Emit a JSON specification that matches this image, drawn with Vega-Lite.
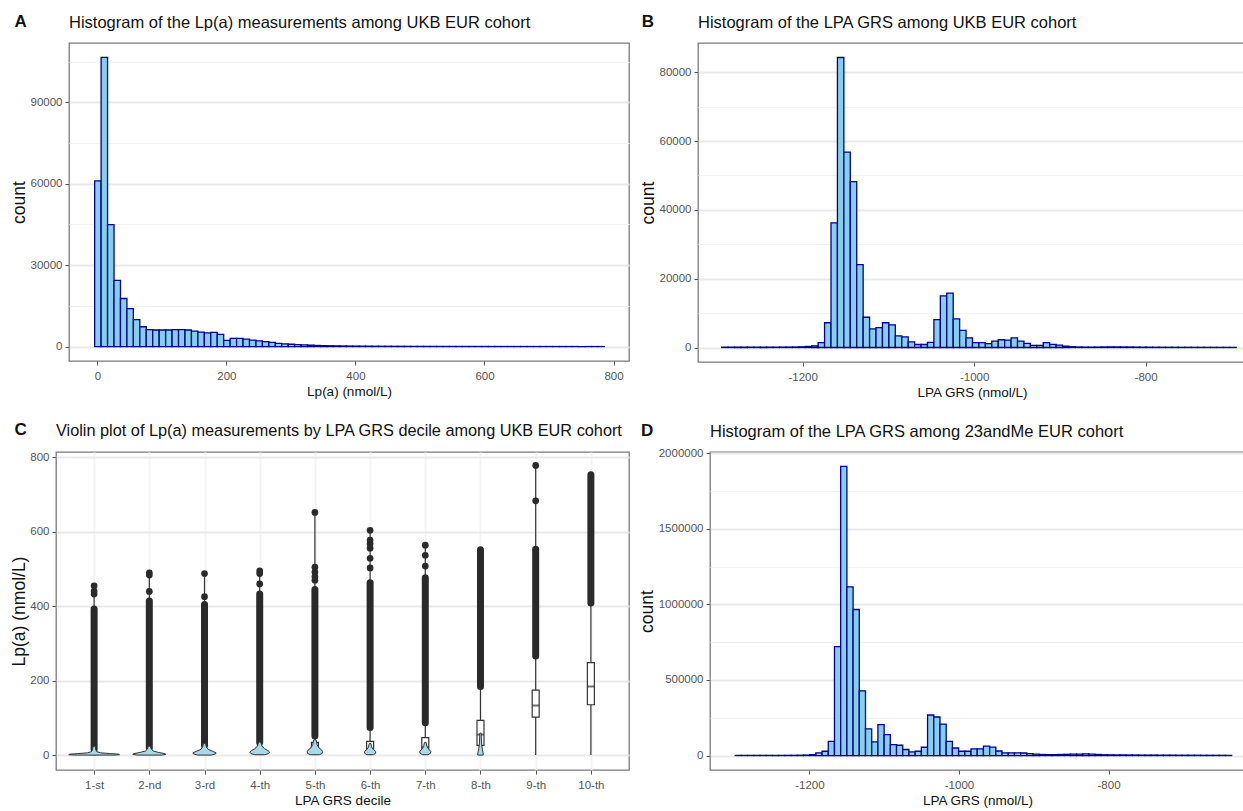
{
 "$schema": "https://vega.github.io/schema/vega-lite/v6.json",
 "background": "white",
 "padding": {"left": 7, "top": 12, "right": 0, "bottom": 0},
 "config": {
  "font": "Liberation Sans",
  "view": {"stroke": "#7a7a7a", "strokeWidth": 1.3},
  "axis": {
   "domain": false,
   "labelFont": "Liberation Sans",
   "labelFontSize": 11.5,
   "labelColor": "#555555",
   "labelOverlap": false,
   "tickColor": "#555555",
   "tickSize": 4,
   "labelPadding": 3,
   "titleFont": "Liberation Sans",
   "titleFontSize": 13.5,
   "titleFontWeight": "normal",
   "titleColor": "#111111",
   "gridColor": "#ebebeb"
  },
  "axisY": {"titleFontSize": 17.5, "titlePadding": 1.5},
  "axisX": {"labelPadding": 5, "titlePadding": 3},
  "title": {"font": "Liberation Sans", "fontSize": 16.5, "fontWeight": "normal", "color": "#111111", "anchor": "start", "frame": "group", "offset": 12}
 },
 "datasets": {
  "box": [
   {"d": 1, "q1": 2, "med": 4, "q3": 7},
   {"d": 2, "q1": 3, "med": 5, "q3": 10},
   {"d": 3, "q1": 4, "med": 8, "q3": 15},
   {"d": 4, "q1": 5, "med": 10, "q3": 22},
   {"d": 5, "q1": 7, "med": 14, "q3": 35},
   {"d": 6, "q1": 8, "med": 18, "q3": 38},
   {"d": 7, "q1": 10, "med": 22, "q3": 48},
   {"d": 8, "q1": 27, "med": 56, "q3": 94},
   {"d": 9, "q1": 103, "med": 134, "q3": 175},
   {"d": 10, "q1": 136, "med": 185, "q3": 249}
  ],
  "blank": [{"k": 0}]
 },
 "columns": 2,
 "align": {"row": "each", "column": "none"},
 "spacing": {"row": 21, "column": 8},
 "concat": [
    {
     "title": {"text": "A", "fontWeight": "bold", "fontSize": 17, "frame": "bounds", "offset": -17, "dx": 7},
     "spacing": 0.001,
     "hconcat": [
      {
       "width": 0.01, "height": 0.01,
       "view": {"stroke": null},
       "data": {"name": "blank"},
       "mark": {"type": "rule", "opacity": 0},
       "encoding": {}
      },
      {
       "width": 560, "height": 318,
       "title": {"text": "Histogram of the Lp(a) measurements among UKB EUR cohort"},
       "data": {"values": [
        {"s": -5, "n": 61000}, {"s": 5, "n": 106500}, {"s": 15, "n": 44900}, {"s": 25, "n": 24400},
        {"s": 35, "n": 17700}, {"s": 45, "n": 14000}, {"s": 55, "n": 9900}, {"s": 65, "n": 7300},
        {"s": 75, "n": 6200}, {"s": 85, "n": 6100}, {"s": 95, "n": 6100}, {"s": 105, "n": 6100},
        {"s": 115, "n": 6200}, {"s": 125, "n": 6200}, {"s": 135, "n": 6100}, {"s": 145, "n": 5700},
        {"s": 155, "n": 5300}, {"s": 165, "n": 5000}, {"s": 175, "n": 5200}, {"s": 185, "n": 4500},
        {"s": 195, "n": 2300}, {"s": 205, "n": 3000}, {"s": 215, "n": 3000}, {"s": 225, "n": 2700},
        {"s": 235, "n": 2400}, {"s": 245, "n": 2100}, {"s": 255, "n": 1800}, {"s": 265, "n": 1500},
        {"s": 275, "n": 1200}, {"s": 285, "n": 1000}, {"s": 295, "n": 850}, {"s": 305, "n": 700},
        {"s": 315, "n": 580}, {"s": 325, "n": 480}, {"s": 335, "n": 400}, {"s": 345, "n": 340},
        {"s": 355, "n": 290}, {"s": 365, "n": 250}, {"s": 375, "n": 215}, {"s": 385, "n": 185},
        {"s": 395, "n": 160}, {"s": 405, "n": 140}, {"s": 415, "n": 125}, {"s": 425, "n": 110},
        {"s": 435, "n": 100}, {"s": 445, "n": 90}, {"s": 455, "n": 80}, {"s": 465, "n": 72},
        {"s": 475, "n": 65}, {"s": 485, "n": 58}, {"s": 495, "n": 52}, {"s": 505, "n": 47},
        {"s": 515, "n": 42}, {"s": 525, "n": 38}, {"s": 535, "n": 35}, {"s": 545, "n": 32},
        {"s": 555, "n": 29}, {"s": 565, "n": 26}, {"s": 575, "n": 24}, {"s": 585, "n": 22},
        {"s": 595, "n": 20}, {"s": 605, "n": 18}, {"s": 615, "n": 17}, {"s": 625, "n": 16},
        {"s": 635, "n": 15}, {"s": 645, "n": 14}, {"s": 655, "n": 13}, {"s": 665, "n": 12},
        {"s": 675, "n": 11}, {"s": 685, "n": 10}, {"s": 695, "n": 9}, {"s": 705, "n": 8},
        {"s": 715, "n": 8}, {"s": 725, "n": 7}, {"s": 735, "n": 6}, {"s": 745, "n": 6},
        {"s": 755, "n": 5}, {"s": 765, "n": 4}, {"s": 775, "n": 3}
       ]},
       "mark": {"type": "bar", "fill": "#87ceeb", "stroke": "#00008b", "strokeWidth": 1.3, "binSpacing": 0},
       "encoding": {
        "x": {"field": "s", "type": "quantitative", "bin": {"binned": true, "step": 10}, "title": "Lp(a) (nmol/L)",
         "scale": {"domain": [-44, 824], "nice": false, "zero": false},
         "axis": {"values": [0, 100, 200, 300, 400, 500, 600, 700, 800],
          "labelExpr": "datum.value % 200 == 0 ? '' + datum.value : ''",
          "tickOpacity": {"condition": {"test": "datum.value % 200 != 0", "value": 0}, "value": 1},
          "gridColor": "#f4f4f4",
          "gridWidth": {"condition": {"test": "datum.value % 200 != 0", "value": 1}, "value": 2}}},
        "y": {"field": "n", "type": "quantitative", "title": "count",
         "scale": {"domain": [-5325, 111825], "nice": false, "zero": false},
         "axis": {"values": [0, 15000, 30000, 45000, 60000, 75000, 90000, 105000],
          "labelExpr": "datum.value % 30000 == 0 ? '' + datum.value : ''",
          "tickOpacity": {"condition": {"test": "datum.value % 30000 != 0", "value": 0}, "value": 1},
          "gridColor": {"condition": {"test": "datum.value % 30000 != 0", "value": "#f2f2f2"}, "value": "#e9e9e9"},
          "gridWidth": {"condition": {"test": "datum.value % 30000 != 0", "value": 1}, "value": 2}}},
        "y2": {"datum": 0}
       }
      }
     ]
    },
    {
     "title": {"text": "B", "fontWeight": "bold", "fontSize": 17, "frame": "bounds", "offset": -17, "dx": 3},
     "vconcat": [
      {
       "width": 548, "height": 319,
       "title": {"text": "Histogram of the LPA GRS among UKB EUR cohort"},
       "data": {"values": [
        {"s": -1295, "n": 100}, {"s": -1287.5, "n": 100}, {"s": -1280, "n": 100}, {"s": -1272.5, "n": 100},
        {"s": -1265, "n": 100}, {"s": -1257.5, "n": 100}, {"s": -1250, "n": 100}, {"s": -1242.5, "n": 100},
        {"s": -1235, "n": 100}, {"s": -1227.5, "n": 120}, {"s": -1220, "n": 130}, {"s": -1212.5, "n": 150},
        {"s": -1205, "n": 200}, {"s": -1197.5, "n": 300}, {"s": -1190, "n": 500}, {"s": -1182.5, "n": 1400},
        {"s": -1175, "n": 7200}, {"s": -1167.5, "n": 36200}, {"s": -1160, "n": 84300}, {"s": -1152.5, "n": 56800},
        {"s": -1145, "n": 48200}, {"s": -1137.5, "n": 24100}, {"s": -1130, "n": 8800}, {"s": -1122.5, "n": 5400},
        {"s": -1115, "n": 5800}, {"s": -1107.5, "n": 7200}, {"s": -1100, "n": 6600}, {"s": -1092.5, "n": 3400},
        {"s": -1085, "n": 3100}, {"s": -1077.5, "n": 1650}, {"s": -1070, "n": 870}, {"s": -1062.5, "n": 870},
        {"s": -1055, "n": 1500}, {"s": -1047.5, "n": 8100}, {"s": -1040, "n": 15000}, {"s": -1032.5, "n": 15800},
        {"s": -1025, "n": 8300}, {"s": -1017.5, "n": 5000}, {"s": -1010, "n": 2800}, {"s": -1002.5, "n": 1400},
        {"s": -995, "n": 1400}, {"s": -987.5, "n": 1100}, {"s": -980, "n": 1850}, {"s": -972.5, "n": 2250},
        {"s": -965, "n": 2150}, {"s": -957.5, "n": 2800}, {"s": -950, "n": 1850}, {"s": -942.5, "n": 1200},
        {"s": -935, "n": 620}, {"s": -927.5, "n": 620}, {"s": -920, "n": 1400}, {"s": -912.5, "n": 900},
        {"s": -905, "n": 700}, {"s": -897.5, "n": 420}, {"s": -890, "n": 220}, {"s": -882.5, "n": 150},
        {"s": -875, "n": 120}, {"s": -867.5, "n": 110}, {"s": -860, "n": 130}, {"s": -852.5, "n": 160},
        {"s": -845, "n": 180}, {"s": -837.5, "n": 170}, {"s": -830, "n": 160}, {"s": -822.5, "n": 140},
        {"s": -815, "n": 120}, {"s": -807.5, "n": 100}, {"s": -800, "n": 90}, {"s": -792.5, "n": 80},
        {"s": -785, "n": 75}, {"s": -777.5, "n": 70}, {"s": -770, "n": 65}, {"s": -762.5, "n": 60},
        {"s": -755, "n": 60}, {"s": -747.5, "n": 55}, {"s": -740, "n": 55}, {"s": -732.5, "n": 50},
        {"s": -725, "n": 50}, {"s": -717.5, "n": 45}, {"s": -710, "n": 45}, {"s": -702.5, "n": 40}
       ]},
       "mark": {"type": "bar", "fill": "#87ceeb", "stroke": "#00008b", "strokeWidth": 1.3, "binSpacing": 0},
       "encoding": {
        "x": {"field": "s", "type": "quantitative", "bin": {"binned": true, "step": 7.5}, "title": "LPA GRS (nmol/L)",
         "scale": {"domain": [-1322, -683], "nice": false, "zero": false},
         "axis": {"values": [-1300, -1200, -1100, -1000, -900, -800, -700],
          "labelExpr": "datum.value % 200 == 0 ? '' + datum.value : ''",
          "tickOpacity": {"condition": {"test": "datum.value % 200 != 0", "value": 0}, "value": 1},
          "gridColor": "#f4f4f4",
          "gridWidth": {"condition": {"test": "datum.value % 200 != 0", "value": 1}, "value": 2}}},
        "y": {"field": "n", "type": "quantitative", "title": "count",
         "scale": {"domain": [-4215, 88515], "nice": false, "zero": false},
         "axis": {"values": [0, 10000, 20000, 30000, 40000, 50000, 60000, 70000, 80000],
          "labelExpr": "datum.value % 20000 == 0 ? '' + datum.value : ''",
          "tickOpacity": {"condition": {"test": "datum.value % 20000 != 0", "value": 0}, "value": 1},
          "gridColor": {"condition": {"test": "datum.value % 20000 != 0", "value": "#f2f2f2"}, "value": "#e9e9e9"},
          "gridWidth": {"condition": {"test": "datum.value % 20000 != 0", "value": 1}, "value": 2}}},
        "y2": {"datum": 0}
       }
      }
     ]
    },
    {
     "title": {"text": "C", "fontWeight": "bold", "fontSize": 17, "frame": "bounds", "offset": -17, "dx": 7},
     "spacing": 0.001,
     "hconcat": [
      {
       "width": 0.01, "height": 0.01,
       "view": {"stroke": null},
       "data": {"name": "blank"},
       "mark": {"type": "rule", "opacity": 0},
       "encoding": {}
      },
      {
       "width": 573, "height": 318,
       "title": {"text": "Violin plot of Lp(a) measurements by LPA GRS decile among UKB EUR cohort", "fontSize": 16.3},
       "layer": [
        {
         "data": {"values": [
          {"d": 1, "lo": 1, "hi": 455}, {"d": 2, "lo": 1, "hi": 490}, {"d": 3, "lo": 1, "hi": 488},
          {"d": 4, "lo": 1, "hi": 495}, {"d": 5, "lo": 1, "hi": 652}, {"d": 6, "lo": 1, "hi": 604},
          {"d": 7, "lo": 1, "hi": 564}, {"d": 8, "lo": 1, "hi": 559}, {"d": 9, "lo": 1, "hi": 778},
          {"d": 10, "lo": 1, "hi": 760}
         ]},
         "mark": {"type": "rule", "color": "#333333", "strokeWidth": 1.2},
         "encoding": {
          "x": {"field": "d", "type": "quantitative", "title": "LPA GRS decile",
           "scale": {"domain": [0.4, 10.6], "nice": false, "zero": false},
           "axis": {"values": [1, 2, 3, 4, 5, 6, 7, 8, 9, 10],
            "labelExpr": "datum.value == 1 ? '1-st' : datum.value == 2 ? '2-nd' : datum.value == 3 ? '3-rd' : datum.value + '-th'",
            "gridColor": "#f4f4f4", "gridWidth": 2}},
          "y": {"field": "lo", "type": "quantitative", "title": "Lp(a) (nmol/L)",
           "scale": {"domain": [-39, 814], "nice": false, "zero": false},
           "axis": {"values": [0, 100, 200, 300, 400, 500, 600, 700, 800],
            "labelExpr": "datum.value % 200 == 0 ? '' + datum.value : ''",
            "tickOpacity": {"condition": {"test": "datum.value % 200 != 0", "value": 0}, "value": 1},
            "gridColor": {"condition": {"test": "datum.value % 200 != 0", "value": "#f2f2f2"}, "value": "#e9e9e9"},
            "gridWidth": {"condition": {"test": "datum.value % 200 != 0", "value": 1}, "value": 2}}},
          "y2": {"field": "hi"}
         }
        },
        {
         "data": {"values": [
          {"d": 1, "lo": 16, "hi": 393}, {"d": 2, "lo": 20, "hi": 414}, {"d": 3, "lo": 27, "hi": 405},
          {"d": 4, "lo": 35, "hi": 433}, {"d": 5, "lo": 52, "hi": 445}, {"d": 6, "lo": 75, "hi": 463},
          {"d": 7, "lo": 88, "hi": 477}, {"d": 8, "lo": 185, "hi": 552}, {"d": 9, "lo": 267, "hi": 553},
          {"d": 10, "lo": 409, "hi": 753}
         ]},
         "mark": {"type": "rule", "color": "#2a2a2a", "strokeWidth": 7, "strokeCap": "round"},
         "encoding": {
          "x": {"field": "d", "type": "quantitative", "title": "LPA GRS decile"},
          "y": {"field": "lo", "type": "quantitative", "title": "Lp(a) (nmol/L)"},
          "y2": {"field": "hi"}
         }
        },
        {
         "data": {"values": [
          {"d": 1, "v": 433}, {"d": 1, "v": 441}, {"d": 1, "v": 455},
          {"d": 2, "v": 440}, {"d": 2, "v": 484}, {"d": 2, "v": 490},
          {"d": 3, "v": 426}, {"d": 3, "v": 488},
          {"d": 4, "v": 460}, {"d": 4, "v": 488}, {"d": 4, "v": 495},
          {"d": 5, "v": 470}, {"d": 5, "v": 480}, {"d": 5, "v": 492}, {"d": 5, "v": 505}, {"d": 5, "v": 652},
          {"d": 6, "v": 503}, {"d": 6, "v": 529}, {"d": 6, "v": 556}, {"d": 6, "v": 568}, {"d": 6, "v": 578}, {"d": 6, "v": 604},
          {"d": 7, "v": 508}, {"d": 7, "v": 537}, {"d": 7, "v": 564},
          {"d": 9, "v": 683}, {"d": 9, "v": 778}
         ]},
         "mark": {"type": "point", "filled": true, "color": "#2a2a2a", "size": 45, "opacity": 1},
         "encoding": {
          "x": {"field": "d", "type": "quantitative", "title": "LPA GRS decile"},
          "y": {"field": "v", "type": "quantitative", "title": "Lp(a) (nmol/L)"}
         }
        },
        {
         "data": {"name": "box"},
         "mark": {"type": "bar", "fill": "white", "stroke": "#333333", "strokeWidth": 1.2, "size": 7},
         "encoding": {
          "x": {"field": "d", "type": "quantitative", "title": "LPA GRS decile"},
          "y": {"field": "q1", "type": "quantitative", "title": "Lp(a) (nmol/L)"},
          "y2": {"field": "q3"}
         }
        },
        {
         "data": {"name": "box"},
         "mark": {"type": "tick", "orient": "horizontal", "color": "#333333", "size": 7, "thickness": 2},
         "encoding": {
          "x": {"field": "d", "type": "quantitative", "title": "LPA GRS decile"},
          "y": {"field": "med", "type": "quantitative", "title": "Lp(a) (nmol/L)"}
         }
        },
        {
         "data": {"values": [
          {"d": 1, "y": 1, "lo": 0.64, "hi": 1.36}, {"d": 1, "y": 2, "lo": 0.54, "hi": 1.46}, {"d": 1, "y": 3.5, "lo": 0.56, "hi": 1.44},
          {"d": 1, "y": 5, "lo": 0.7, "hi": 1.3}, {"d": 1, "y": 7, "lo": 0.88, "hi": 1.12}, {"d": 1, "y": 10, "lo": 0.95, "hi": 1.05},
          {"d": 1, "y": 15, "lo": 0.97, "hi": 1.03}, {"d": 1, "y": 25, "lo": 0.98, "hi": 1.02},
          {"d": 2, "y": 1, "lo": 1.78, "hi": 2.22}, {"d": 2, "y": 3, "lo": 1.7, "hi": 2.3}, {"d": 2, "y": 5, "lo": 1.72, "hi": 2.28},
          {"d": 2, "y": 8, "lo": 1.83, "hi": 2.17}, {"d": 2, "y": 12, "lo": 1.93, "hi": 2.07}, {"d": 2, "y": 17, "lo": 1.965, "hi": 2.035},
          {"d": 2, "y": 25, "lo": 1.98, "hi": 2.02},
          {"d": 3, "y": 1, "lo": 2.88, "hi": 3.12}, {"d": 3, "y": 4, "lo": 2.8, "hi": 3.2}, {"d": 3, "y": 7, "lo": 2.79, "hi": 3.21},
          {"d": 3, "y": 11, "lo": 2.85, "hi": 3.15}, {"d": 3, "y": 16, "lo": 2.93, "hi": 3.07}, {"d": 3, "y": 22, "lo": 2.965, "hi": 3.035},
          {"d": 3, "y": 32, "lo": 2.98, "hi": 3.02},
          {"d": 4, "y": 2, "lo": 3.91, "hi": 4.09}, {"d": 4, "y": 5, "lo": 3.84, "hi": 4.16}, {"d": 4, "y": 9, "lo": 3.82, "hi": 4.18},
          {"d": 4, "y": 13, "lo": 3.85, "hi": 4.15}, {"d": 4, "y": 18, "lo": 3.91, "hi": 4.09}, {"d": 4, "y": 25, "lo": 3.96, "hi": 4.04},
          {"d": 4, "y": 36, "lo": 3.98, "hi": 4.02},
          {"d": 5, "y": 2, "lo": 4.92, "hi": 5.08}, {"d": 5, "y": 5, "lo": 4.87, "hi": 5.13}, {"d": 5, "y": 10, "lo": 4.86, "hi": 5.14},
          {"d": 5, "y": 15, "lo": 4.88, "hi": 5.12}, {"d": 5, "y": 21, "lo": 4.93, "hi": 5.07}, {"d": 5, "y": 29, "lo": 4.96, "hi": 5.04},
          {"d": 5, "y": 42, "lo": 4.98, "hi": 5.02},
          {"d": 6, "y": 2, "lo": 5.94, "hi": 6.06}, {"d": 6, "y": 6, "lo": 5.9, "hi": 6.1}, {"d": 6, "y": 11, "lo": 5.9, "hi": 6.1},
          {"d": 6, "y": 16, "lo": 5.94, "hi": 6.06}, {"d": 6, "y": 22, "lo": 5.97, "hi": 6.03}, {"d": 6, "y": 32, "lo": 5.985, "hi": 6.015},
          {"d": 7, "y": 2, "lo": 6.95, "hi": 7.05}, {"d": 7, "y": 6, "lo": 6.905, "hi": 7.095}, {"d": 7, "y": 11, "lo": 6.9, "hi": 7.1},
          {"d": 7, "y": 17, "lo": 6.94, "hi": 7.06}, {"d": 7, "y": 24, "lo": 6.97, "hi": 7.03}, {"d": 7, "y": 35, "lo": 6.985, "hi": 7.015},
          {"d": 8, "y": 1, "lo": 7.95, "hi": 8.05}, {"d": 8, "y": 5, "lo": 7.95, "hi": 8.05}, {"d": 8, "y": 15, "lo": 7.965, "hi": 8.035},
          {"d": 8, "y": 30, "lo": 7.98, "hi": 8.02}, {"d": 8, "y": 60, "lo": 7.988, "hi": 8.012}
         ]},
         "mark": {"type": "area", "orient": "horizontal", "fill": "#a9d9e6", "stroke": "#333333", "strokeWidth": 1},
         "encoding": {
          "y": {"field": "y", "type": "quantitative", "title": "Lp(a) (nmol/L)"},
          "x": {"field": "lo", "type": "quantitative", "title": "LPA GRS decile"},
          "x2": {"field": "hi"},
          "detail": {"field": "d"}
         }
        }
       ]
      }
     ]
    },
    {
     "title": {"text": "D", "fontWeight": "bold", "fontSize": 17, "frame": "bounds", "offset": -17, "dx": 3},
     "vconcat": [
      {
       "width": 535, "height": 318,
       "title": {"text": "Histogram of the LPA GRS among 23andMe EUR cohort", "offset": 7},
       "data": {"values": [
        {"s": -1300, "n": 1000}, {"s": -1291.7, "n": 1000}, {"s": -1283.4, "n": 1000}, {"s": -1275.1, "n": 1000},
        {"s": -1266.8, "n": 1000}, {"s": -1258.5, "n": 1000}, {"s": -1250.2, "n": 1000}, {"s": -1241.9, "n": 1000},
        {"s": -1233.6, "n": 1200}, {"s": -1225.3, "n": 1500}, {"s": -1217, "n": 2000}, {"s": -1208.7, "n": 3000},
        {"s": -1200.4, "n": 6000}, {"s": -1192.1, "n": 17500}, {"s": -1183.8, "n": 28500}, {"s": -1175.5, "n": 94000},
        {"s": -1167.2, "n": 720000}, {"s": -1158.9, "n": 1912000}, {"s": -1150.6, "n": 1115000}, {"s": -1142.3, "n": 966000},
        {"s": -1134, "n": 428000}, {"s": -1125.7, "n": 176000}, {"s": -1117.4, "n": 90000}, {"s": -1109.1, "n": 204000},
        {"s": -1100.8, "n": 138000}, {"s": -1092.5, "n": 72000}, {"s": -1084.2, "n": 68000}, {"s": -1075.9, "n": 40000},
        {"s": -1067.6, "n": 24000}, {"s": -1059.3, "n": 28500}, {"s": -1051, "n": 55000}, {"s": -1042.7, "n": 268000},
        {"s": -1034.4, "n": 255000}, {"s": -1026.1, "n": 208000}, {"s": -1017.8, "n": 94000}, {"s": -1009.5, "n": 50000},
        {"s": -1001.2, "n": 28500}, {"s": -992.9, "n": 28500}, {"s": -984.6, "n": 44000}, {"s": -976.3, "n": 44000},
        {"s": -968, "n": 62000}, {"s": -959.7, "n": 56000}, {"s": -951.4, "n": 30000}, {"s": -943.1, "n": 18000},
        {"s": -934.8, "n": 17500}, {"s": -926.5, "n": 17500}, {"s": -918.2, "n": 17000}, {"s": -909.9, "n": 13000},
        {"s": -901.6, "n": 9000}, {"s": -893.3, "n": 7000}, {"s": -885, "n": 6000}, {"s": -876.7, "n": 6000},
        {"s": -868.4, "n": 7000}, {"s": -860.1, "n": 8000}, {"s": -851.8, "n": 9000}, {"s": -843.5, "n": 10000},
        {"s": -835.2, "n": 11000}, {"s": -826.9, "n": 9000}, {"s": -818.6, "n": 7000}, {"s": -810.3, "n": 5000},
        {"s": -802, "n": 4500}, {"s": -793.7, "n": 4000}, {"s": -785.4, "n": 4000}, {"s": -777.1, "n": 3500},
        {"s": -768.8, "n": 3500}, {"s": -760.5, "n": 3000}, {"s": -752.2, "n": 3000}, {"s": -743.9, "n": 3000},
        {"s": -735.6, "n": 2500}, {"s": -727.3, "n": 2500}, {"s": -719, "n": 2500}, {"s": -710.7, "n": 2000},
        {"s": -702.4, "n": 2000}, {"s": -694.1, "n": 2000}, {"s": -685.8, "n": 2000}, {"s": -677.5, "n": 1500},
        {"s": -669.2, "n": 1500}, {"s": -660.9, "n": 1500}, {"s": -652.6, "n": 1500}, {"s": -644.3, "n": 1000}
       ]},
       "mark": {"type": "bar", "fill": "#87ceeb", "stroke": "#00008b", "strokeWidth": 1.3, "binSpacing": 0},
       "encoding": {
        "x": {"field": "s", "type": "quantitative", "bin": {"binned": true, "step": 8.3}, "title": "LPA GRS (nmol/L)",
         "scale": {"domain": [-1333, -617.5], "nice": false, "zero": false},
         "axis": {"values": [-1300, -1200, -1100, -1000, -900, -800, -700],
          "labelExpr": "datum.value % 200 == 0 ? '' + datum.value : ''",
          "tickOpacity": {"condition": {"test": "datum.value % 200 != 0", "value": 0}, "value": 1},
          "gridColor": "#f4f4f4",
          "gridWidth": {"condition": {"test": "datum.value % 200 != 0", "value": 1}, "value": 2}}},
        "y": {"field": "n", "type": "quantitative", "title": "count",
         "scale": {"domain": [-95600, 2007600], "nice": false, "zero": false},
         "axis": {"values": [0, 250000, 500000, 750000, 1000000, 1250000, 1500000, 1750000, 2000000],
          "labelExpr": "datum.value % 500000 == 0 ? '' + datum.value : ''",
          "tickOpacity": {"condition": {"test": "datum.value % 500000 != 0", "value": 0}, "value": 1},
          "gridColor": {"condition": {"test": "datum.value % 500000 != 0", "value": "#f2f2f2"}, "value": "#e9e9e9"},
          "gridWidth": {"condition": {"test": "datum.value % 500000 != 0", "value": 1}, "value": 2}}},
        "y2": {"datum": 0}
       }
      }
     ]
    }
 ]
}
